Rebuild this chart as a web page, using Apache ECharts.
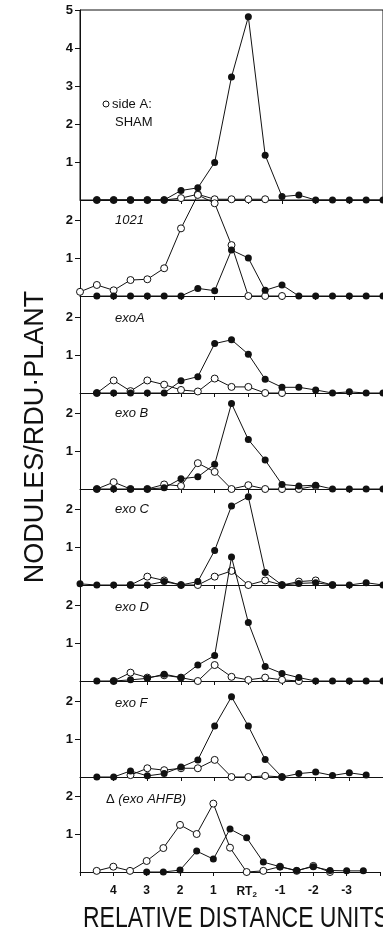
<!DOCTYPE html>
<html>
<head>
<meta charset="utf-8">
<script src="https://cdn.jsdelivr.net/npm/echarts@6/dist/echarts.min.js"></script>
<style>
  html, body { margin: 0; padding: 0; background: #fff; }
  #chart { width: 383px; height: 935px; }
</style>
</head>
<body>
<div id="chart"></div>
<script>
// positions along the root, in relative distance units (RT2 = 0)
const xPos = [5, 4.5, 4, 3.5, 3, 2.5, 2, 1.5, 1, 0.5, 0, -0.5, -1, -1.5, -2, -2.5, -3, -3.5, -4]
const xTicks = [4, 3, 2, 1, 0, -1, -2, -3]

// nodules per RDU per plant, null = no point
const shamClosed = [null, 0, 0, 0, 0, 0, 0.25, 0.32, 0.99, 3.24, 4.82, 1.18, 0.09, 0.13, 0, 0, 0, 0, 0]
const shamOpen = [null, 0, 0, 0, 0, 0, 0.05, 0.15, 0.02, 0.02, 0.02, 0.02, null, null, null, null, null, null, null]
const r1021Closed = [null, 0, 0, 0, 0, 0, 0, 0.2, 0.14, 1.21, 1.0, 0.15, 0.29, 0, 0, 0, 0, 0, 0]
const r1021Open = [0.11, 0.29, 0.15, 0.42, 0.44, 0.73, 1.78, 2.66, 2.44, 1.34, 0, 0, 0, null, null, null, null, null, null]
const exoAClosed = [null, 0, 0, 0, 0, 0, 0.32, 0.43, 1.3, 1.4, 1.02, 0.36, 0.15, 0.15, 0.08, 0, 0.03, 0, 0]
const exoAOpen = [null, 0, 0.33, 0.05, 0.33, 0.22, 0.08, 0.04, 0.38, 0.16, 0.16, 0, 0, null, null, null, null, null, null]
const exoBClosed = [null, 0, 0, 0, 0, 0.03, 0.27, 0.32, 0.65, 2.25, 1.3, 0.76, 0.12, 0.08, 0.1, 0, 0, 0, 0]
const exoBOpen = [null, 0, 0.18, 0, 0, 0.12, 0.08, 0.68, 0.45, 0, 0.1, 0, 0, 0, 0.08, null, null, null, null]
const exoCClosed = [0.03, 0, 0, 0, 0, 0.09, 0, 0.09, 0.91, 2.08, 2.32, 0.33, 0, 0.04, 0.06, 0, 0, 0.06, 0]
const exoCOpen = [null, null, null, 0, 0.22, 0.12, 0, 0, 0.22, 0.37, 0, 0.12, 0, 0.09, 0.12, 0, null, null, null]
const exoDClosed = [null, 0, 0, 0.03, 0.07, 0.18, 0.09, 0.42, 0.67, 3.26, 1.54, 0.38, 0.2, 0.09, 0, 0, 0, 0, 0]
const exoDOpen = [null, null, 0, 0.22, 0.09, 0.15, 0.09, 0, 0.42, 0.11, 0.03, 0.09, 0.03, 0, null, null, null, null, null]
const exoFClosed = [null, 0, 0, 0.16, 0.03, 0.09, 0.26, 0.45, 1.34, 2.11, 1.34, 0.46, 0, 0.09, 0.13, 0.04, 0.11, 0.05, null]
const exoFOpen = [null, null, null, 0.05, 0.23, 0.18, 0.23, 0.23, 0.45, 0, 0, 0.03, 0, null, null, null, null, null, null]
const ahfbClosed = [null, null, null, null, 0, 0, 0.05, 0.55, 0.34, 1.13, 0.9, 0.26, 0.14, 0.04, 0.14, 0.04, 0.03, 0.03, null]
const ahfbOpen = [null, 0.03, 0.14, 0.03, 0.29, 0.63, 1.24, 1.0, 1.8, 0.64, 0, 0.03, 0.14, 0.03, 0.16, 0, null, null, null]

const panels = [
    { closed: shamClosed, open: shamOpen, max: 5, ticks: [1, 2, 3, 4, 5] },
    { closed: r1021Closed, open: r1021Open, max: 2.5, ticks: [1, 2] },
    { closed: exoAClosed, open: exoAOpen, max: 2.5, ticks: [1, 2] },
    { closed: exoBClosed, open: exoBOpen, max: 2.5, ticks: [1, 2] },
    { closed: exoCClosed, open: exoCOpen, max: 2.5, ticks: [1, 2] },
    { closed: exoDClosed, open: exoDOpen, max: 2.5, ticks: [1, 2] },
    { closed: exoFClosed, open: exoFOpen, max: 2.5, ticks: [1, 2] },
    { closed: ahfbClosed, open: ahfbOpen, max: 2.5, ticks: [1, 2] },
]

// baselines (px) of the stacked panels
const baselines = [200, 296, 393, 489, 585, 681, 777, 872]
const ink = '#111'
const pxPerUnit = 38

const toPoints = (vals) => {
    const out = []
    vals.forEach((v, i) => {
        if (v !== null) out.push([xPos[i], v])
    })
    return out
}

const grids = []
const xAxes = []
const yAxes = []
const series = []

panels.forEach((p, i) => {
    const h = p.max * pxPerUnit
    grids.push({
        left: 80,
        width: 304,
        top: baselines[i] - h,
        height: h,
        show: i === 0,
        borderColor: ink,
        borderWidth: 1,
    })
    const last = i === panels.length - 1
    xAxes.push({
        gridIndex: i,
        type: 'value',
        inverse: true,
        min: -4,
        max: 5,
        interval: 1,
        axisLine: { onZero: false, lineStyle: { color: ink, width: 1 } },
        axisTick: { show: true, length: 4, lineStyle: { color: ink, width: 1 } },
        axisLabel: {
            show: last,
            margin: 13,
            color: ink,
            fontFamily: 'Liberation Sans',
            fontWeight: 'bold',
            fontSize: 12,
            formatter: (v) => (xTicks.indexOf(v) < 0 ? '' : v === 0 ? '{b|RT}{s|2}' : String(v)),
            rich: {
                b: { fontFamily: 'Liberation Sans', fontWeight: 'bold', fontSize: 12, color: ink },
                s: { fontFamily: 'Liberation Sans', fontWeight: 'bold', fontSize: 8, color: ink, padding: [6, 0, 0, 0] },
            },
        },
        splitLine: { show: false },
    })
    yAxes.push({
        gridIndex: i,
        type: 'value',
        min: 0,
        max: p.max,
        interval: 1,
        axisLine: { show: true, onZero: false, lineStyle: { color: ink, width: 1 } },
        axisTick: { show: true, customValues: p.ticks, length: 5, lineStyle: { color: ink, width: 1 } },
        axisLabel: {
            customValues: p.ticks,
            margin: 7,
            color: ink,
            fontFamily: 'Liberation Sans',
            fontWeight: 'bold',
            fontSize: 13,
        },
        splitLine: { show: false },
    })
    series.push({
        type: 'line',
        xAxisIndex: i,
        yAxisIndex: i,
        data: toPoints(p.open),
        symbol: 'circle',
        symbolSize: 7,
        clip: false,
        z: 2,
        lineStyle: { color: ink, width: 1 },
        itemStyle: { color: '#fff', borderColor: ink, borderWidth: 1 },
    })
    series.push({
        type: 'line',
        xAxisIndex: i,
        yAxisIndex: i,
        data: toPoints(p.closed),
        symbol: 'circle',
        symbolSize: 7,
        clip: false,
        z: 3,
        lineStyle: { color: ink, width: 1 },
        itemStyle: { color: ink, borderColor: ink, borderWidth: 0 },
    })
})

const label = (text, x, y, italic) => ({
    type: 'text',
    x: x,
    y: y,
    style: {
        text: text,
        fill: ink,
        font: (italic ? 'italic ' : '') + '13px "Liberation Sans"',
        align: 'left',
        verticalAlign: 'middle',
        textAlign: 'left',
        textVerticalAlign: 'middle',
    },
})

const chart = echarts.init(document.getElementById('chart'), null, { renderer: 'canvas' })
chart.setOption({
    animation: false,
    backgroundColor: '#fff',
    grid: grids,
    xAxis: xAxes,
    yAxis: yAxes,
    series: series,
    graphic: [
        {
            type: 'circle',
            shape: { cx: 106, cy: 104, r: 3 },
            style: { fill: '#fff', stroke: ink, lineWidth: 1 },
        },
        label('side A:', 112, 104, false),
        label('SHAM', 115, 122, false),
        label('1021', 115, 220, true),
        label('exoA', 115, 318, true),
        label('exo B', 115, 413, true),
        label('exo C', 115, 509, true),
        label('exo D', 115, 607, true),
        label('exo F', 115, 703, true),
        {
            type: 'text',
            x: 106,
            y: 799,
            style: {
                text: '{n|Δ }{i|(exo AHFB)}',
                fill: ink,
                align: 'left',
                verticalAlign: 'middle',
                rich: {
                    n: { font: '13px "Liberation Sans"', fill: ink },
                    i: { font: 'italic 13px "Liberation Sans"', fill: ink },
                },
            },
        },
        {
            type: 'text',
            x: 36,
            y: 437,
            rotation: Math.PI / 2,
            style: {
                text: 'NODULES/RDU·PLANT',
                fill: ink,
                font: '27px "Liberation Sans"',
                align: 'center',
                verticalAlign: 'middle',
                textAlign: 'center',
                textVerticalAlign: 'middle',
            },
        },
        {
            type: 'text',
            x: 83,
            y: 919,
            scaleY: 1.3,
            style: {
                text: 'RELATIVE DISTANCE UNITS',
                fill: ink,
                font: '23px "Liberation Sans"',
                align: 'left',
                verticalAlign: 'middle',
                textAlign: 'left',
                textVerticalAlign: 'middle',
            },
        },
    ],
})
</script>
</body>
</html>
